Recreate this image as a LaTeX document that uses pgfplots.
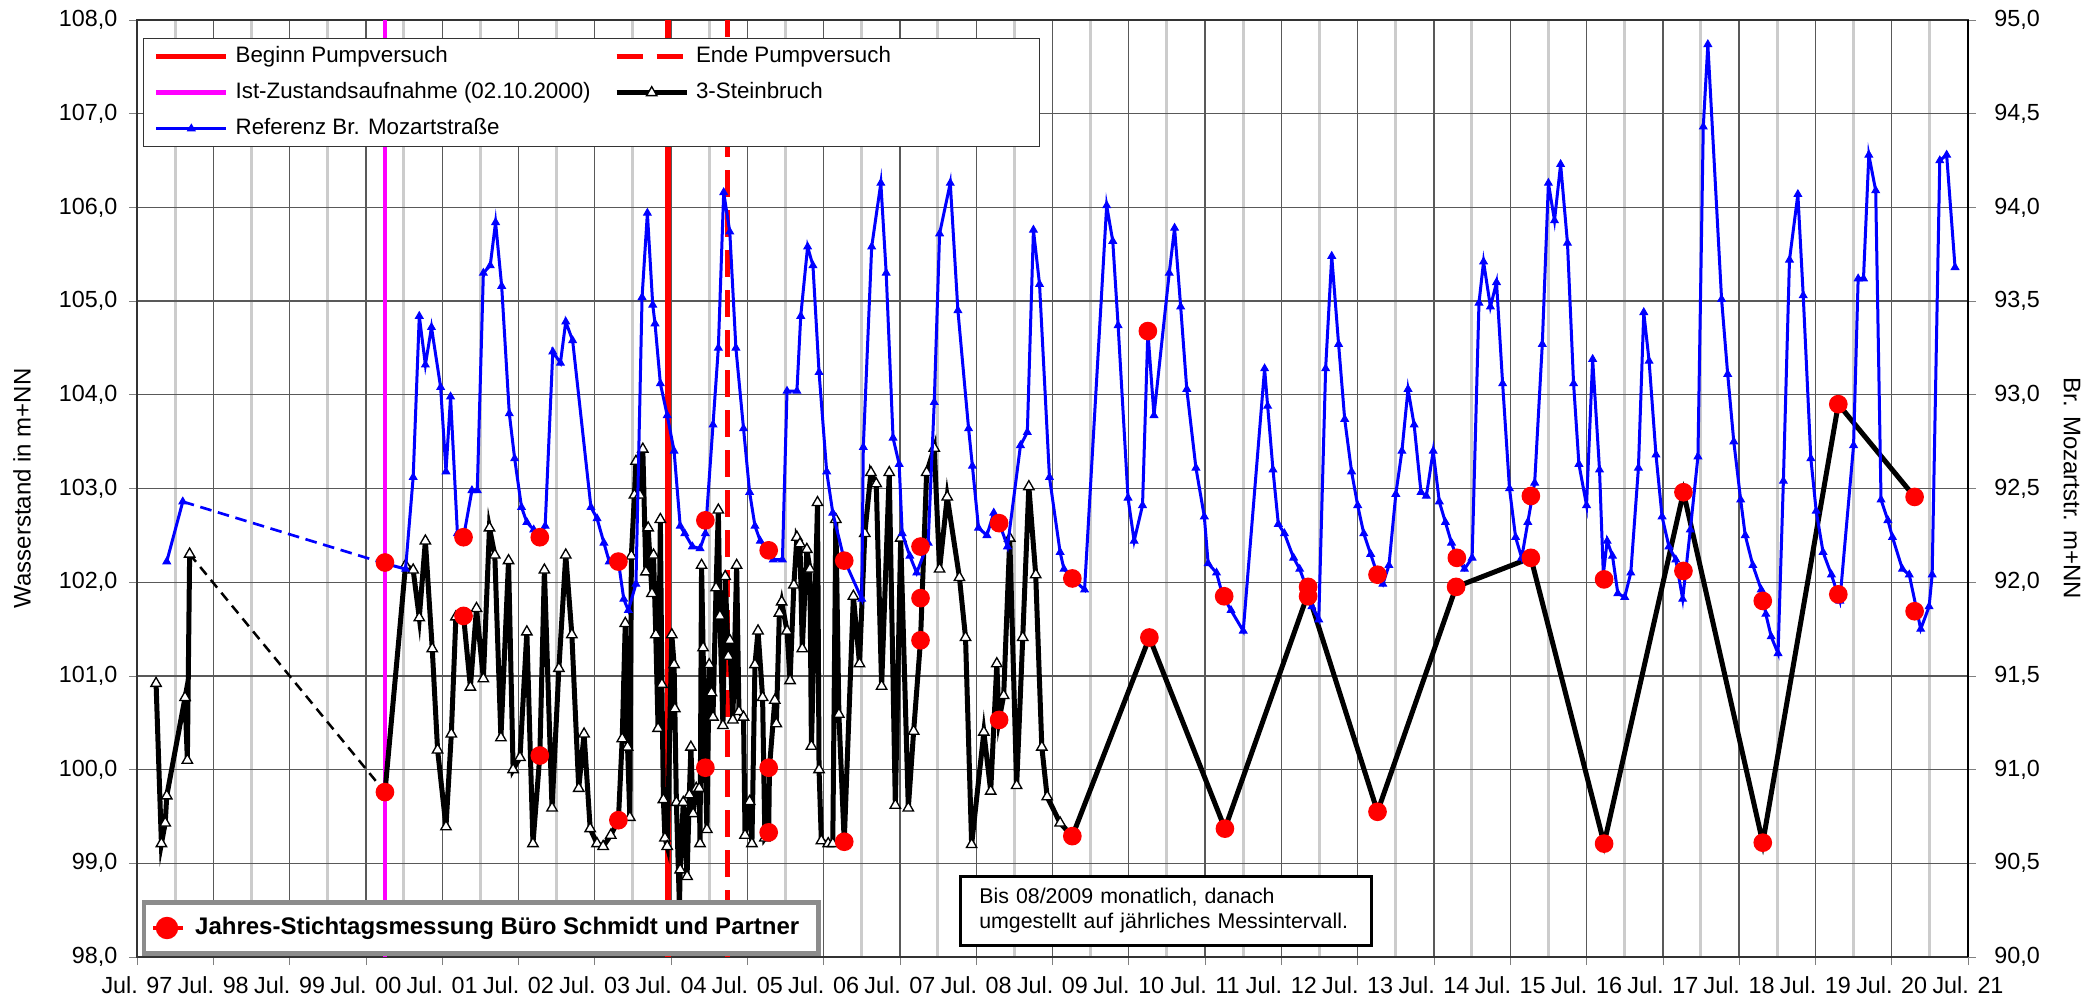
\documentclass[border=0pt]{standalone}
\usepackage{fontspec}
\setmainfont{Liberation Sans}
\usepackage{pgfplots}
\pgfplotsset{compat=1.18}
\definecolor{mag}{RGB}{255,0,255}
\definecolor{bl}{RGB}{0,0,255}
\definecolor{rd}{RGB}{255,0,0}
\begin{document}
\begin{tikzpicture}
\path[use as bounding box] (-41.1pt,-12.6pt) rectangle (585pt,287.1pt);
\pgfplotsset{
  base/.style={
    scale only axis, width=549.3pt, height=281.1pt,
    at={(0pt,0pt)}, anchor=south west,
    xmin=1997.5, xmax=2021.5,
    tick label style={font=\fontsize{7}{8}\selectfont},
    /pgf/number format/assume math mode=true,
    tick align=outside,
    major tick length=2.4pt,
    minor tick length=0pt,
  },
  numfmt/.style={yticklabel style={/pgf/number format/fixed, /pgf/number format/fixed zerofill, /pgf/number format/precision=1, /pgf/number format/use comma}},
}
% ---------------- left axis: vertical markers, 3-Steinbruch
\begin{axis}[base, numfmt,
  ymin=98, ymax=108, ytick={98,99,...,108},
  xtick={1997.5,1998.5,...,2021.5},
  xticklabels={Jul. 97,Jul. 98,Jul. 99,Jul. 00,Jul. 01,Jul. 02,Jul. 03,Jul. 04,Jul. 05,Jul. 06,Jul. 07,Jul. 08,Jul. 09,Jul. 10,Jul. 11,Jul. 12,Jul. 13,Jul. 14,Jul. 15,Jul. 16,Jul. 17,Jul. 18,Jul. 19,Jul. 20,Jul. 21},
  minor xtick={1998,1999,...,2021},
  tick pos=left,
  xmajorgrids, ymajorgrids, xminorgrids,
  major grid style={black!65, line width=0.4pt},
  minor grid style={black!20, line width=0.9pt},
  axis line style={black!80, line width=0.5pt},
  legend columns=2,
  legend image code/.code={\draw[mark repeat=2,mark phase=2,#1] plot coordinates {(0pt,0pt) (10.5pt,0pt) (21pt,0pt)};},
  legend style={at={(0,1)}, anchor=north west, xshift=1.8pt, yshift=-5.4pt,
    draw=black!80, line width=0.4pt, fill=white,
    font=\fontsize{6.7}{8}\selectfont,
    inner xsep=3pt, inner ysep=0pt,
    nodes={minimum height=10.8pt, inner ysep=0pt, inner xsep=2pt},
    /tikz/every even column/.append style={column sep=5pt}},
  legend cell align=left,
]
\addplot[rd, line width=1.6pt] coordinates {(2004.46,98) (2004.46,108)};
\addlegendentry{Beginn Pumpversuch}
\addplot[rd, line width=1.6pt, dash pattern=on 8pt off 4pt] coordinates {(2005.24,98) (2005.24,108)};
\addlegendentry{\makebox[98pt][l]{Ende Pumpversuch}}
\addplot[mag, line width=1.4pt] coordinates {(2000.75,98) (2000.75,108)};
\addlegendentry{Ist-Zustandsaufnahme (02.10.2000)}
\addplot[black, line width=0.75pt, dash pattern=on 3pt off 2pt, forget plot] coordinates {(1998.19,102.30) (2000.75,99.76)};
\addplot[black, line width=1.5pt, mark=triangle*, mark size=1.8pt, mark options={solid, fill=white, draw=black, line width=0.4pt}, forget plot] coordinates {
(1997.75,100.92) (1997.82,99.21) (1997.87,99.43) (1997.89,99.72) (1998.13,100.77) (1998.16,100.10) (1998.19,102.30)};
\addplot[black, line width=1.5pt, mark=triangle*, mark size=1.8pt, mark options={solid, fill=white, draw=black, line width=0.4pt}] coordinates {
(2000.75,99.76) (2001.02,102.18) (2001.12,102.13) (2001.20,101.62) (2001.28,102.44) (2001.37,101.29) (2001.44,100.21) (2001.55,99.39) (2001.62,100.38) (2001.68,101.63) (2001.78,101.64) (2001.87,100.88) (2001.95,101.72) (2002.04,100.97) (2002.12,102.58) (2002.19,102.29) (2002.27,100.34) (2002.37,102.23) (2002.43,100.00) (2002.52,100.13) (2002.61,101.47) (2002.69,99.21) (2002.78,100.15) (2002.84,102.13) (2002.94,99.59) (2003.03,101.08) (2003.12,102.29) (2003.20,101.44) (2003.29,99.80) (2003.36,100.38) (2003.44,99.37) (2003.53,99.21) (2003.61,99.18) (2003.71,99.30) (2003.81,99.46) (2003.86,100.33) (2003.90,101.56) (2003.93,100.24) (2003.96,99.49) (2003.98,102.28) (2004.02,102.93) (2004.04,103.29) (2004.09,102.93) (2004.13,103.42) (2004.17,102.11) (2004.20,102.58) (2004.25,101.88) (2004.27,102.29) (2004.30,101.44) (2004.33,100.44) (2004.36,102.67) (2004.38,100.91) (2004.40,99.68) (2004.42,99.27) (2004.45,99.18) (2004.51,101.44) (2004.54,101.12) (2004.55,100.65) (2004.57,99.65) (2004.61,98.54) (2004.62,98.93) (2004.66,99.65) (2004.71,98.86) (2004.74,99.73) (2004.76,100.24) (2004.79,99.53) (2004.83,99.80) (2004.87,99.80) (2004.88,99.21) (2004.90,102.18) (2004.92,101.30) (2004.95,100.02) (2004.97,99.36) (2005.00,101.12) (2005.03,100.82) (2005.05,100.56) (2005.09,101.94) (2005.12,102.77) (2005.14,101.64) (2005.18,100.47) (2005.21,102.06) (2005.25,101.21) (2005.27,101.38) (2005.31,100.53) (2005.36,102.18) (2005.39,100.62) (2005.45,100.56) (2005.47,99.30) (2005.53,99.66) (2005.56,99.21) (2005.60,101.12) (2005.64,101.48) (2005.70,100.77) (2005.73,99.27) (2005.78,99.33) (2005.79,100.02) (2005.86,100.74) (2005.88,100.49) (2005.92,101.67) (2005.95,101.79) (2006.02,101.48) (2006.06,100.95) (2006.11,101.97) (2006.15,102.48) (2006.19,102.41) (2006.22,101.29) (2006.28,102.35) (2006.32,102.14) (2006.34,100.25) (2006.42,102.85) (2006.44,100.00) (2006.47,99.24) (2006.56,99.21) (2006.62,99.21) (2006.66,102.67) (2006.70,100.59) (2006.77,99.23) (2006.89,101.85) (2006.97,101.13) (2007.04,102.52) (2007.12,103.17) (2007.19,103.05) (2007.26,100.89) (2007.36,103.17) (2007.44,99.62) (2007.51,102.47) (2007.61,99.59) (2007.68,100.41) (2007.77,101.38) (2007.85,103.17) (2007.95,103.43) (2008.02,102.14) (2008.12,102.91) (2008.28,102.05) (2008.36,101.41) (2008.44,99.20) (2008.60,100.40) (2008.69,99.77) (2008.77,101.13) (2008.80,100.53) (2008.86,100.79) (2008.94,102.47) (2009.03,99.83) (2009.11,101.41) (2009.19,103.02) (2009.28,102.08) (2009.36,100.24) (2009.43,99.71) (2009.60,99.43) (2009.76,99.29) (2010.77,101.41) (2011.76,99.37) (2012.85,101.88) (2013.76,99.55) (2014.79,101.95) (2015.77,102.26) (2016.73,99.21) (2017.77,102.96) (2018.81,99.22) (2019.80,103.90) (2020.80,102.91)};
\addlegendentry{3-Steinbruch}
\addlegendimage{bl, line width=0.9pt, mark=triangle*, mark size=1.3pt, mark options={solid, line width=0.3pt}}
\addlegendentry{Referenz Br. Mozartstraße}
\end{axis}
% ---------------- right axis: Referenz Br. Mozartstrasse
\begin{axis}[base, numfmt,
  ymin=90, ymax=95, ytick={90,90.5,...,95},
  axis x line=none, axis y line*=right,
  axis line style={black, line width=0.5pt},
  yticklabel style={xshift=2pt},
]
\addplot[bl, line width=0.8pt, dash pattern=on 3.5pt off 2pt] coordinates {(1998.10,92.43) (2000.75,92.10)};
\addplot[bl, line width=0.9pt, mark=triangle*, mark size=1.3pt, mark options={solid, line width=0.3pt}] coordinates {(1997.89,92.11) (1998.10,92.43)};
\addplot[bl, line width=0.9pt, mark=triangle*, mark size=1.3pt, mark options={solid, line width=0.3pt}] coordinates {
(2000.75,92.10) (2001.02,92.07) (2001.12,92.56) (2001.20,93.42) (2001.28,93.16) (2001.36,93.36) (2001.48,93.04) (2001.55,92.59) (2001.61,92.99) (2001.70,92.26) (2001.78,92.24) (2001.89,92.49) (2001.96,92.49) (2002.04,93.65) (2002.13,93.69) (2002.20,93.92) (2002.28,93.58) (2002.38,92.90) (2002.45,92.66) (2002.54,92.40) (2002.61,92.32) (2002.70,92.28) (2002.78,92.24) (2002.85,92.30) (2002.95,93.23) (2003.05,93.17) (2003.12,93.39) (2003.21,93.29) (2003.45,92.40) (2003.53,92.34) (2003.62,92.21) (2003.69,92.11) (2003.81,92.11) (2003.88,91.91) (2003.94,91.85) (2004.04,91.99) (2004.12,93.52) (2004.19,93.97) (2004.26,93.48) (2004.29,93.38) (2004.36,93.06) (2004.45,92.89) (2004.54,92.70) (2004.62,92.30) (2004.68,92.26) (2004.78,92.19) (2004.88,92.18) (2004.95,92.26) (2005.05,92.84) (2005.12,93.25) (2005.19,94.08) (2005.27,93.87) (2005.35,93.25) (2005.45,92.82) (2005.53,92.48) (2005.60,92.30) (2005.67,92.22) (2005.78,92.17) (2005.84,92.12) (2005.96,92.12) (2006.02,93.02) (2006.15,93.02) (2006.20,93.42) (2006.29,93.79) (2006.36,93.69) (2006.44,93.12) (2006.54,92.59) (2006.62,92.37) (2006.77,92.12) (2007.00,91.91) (2007.02,92.72) (2007.13,93.79) (2007.25,94.13) (2007.32,93.65) (2007.41,92.77) (2007.49,92.63) (2007.53,92.26) (2007.63,92.14) (2007.72,92.05) (2007.87,92.21) (2007.95,92.96) (2008.02,93.86) (2008.16,94.13) (2008.26,93.45) (2008.40,92.82) (2008.45,92.62) (2008.53,92.29) (2008.64,92.25) (2008.73,92.37) (2008.80,92.32) (2008.91,92.19) (2009.08,92.73) (2009.17,92.80) (2009.25,93.88) (2009.33,93.59) (2009.46,92.56) (2009.60,92.16) (2009.65,92.07) (2009.76,92.02) (2009.92,91.96) (2010.21,94.01) (2010.29,93.82) (2010.36,93.37) (2010.49,92.45) (2010.57,92.22) (2010.68,92.41) (2010.75,93.34) (2010.83,92.89) (2011.03,93.65) (2011.10,93.89) (2011.18,93.47) (2011.26,93.03) (2011.38,92.61) (2011.49,92.35) (2011.54,92.10) (2011.65,92.05) (2011.73,91.93) (2011.84,91.85) (2012.00,91.74) (2012.28,93.14) (2012.32,92.94) (2012.39,92.60) (2012.46,92.31) (2012.54,92.26) (2012.66,92.13) (2012.74,92.07) (2012.85,91.95) (2012.90,91.87) (2012.99,91.80) (2013.08,93.14) (2013.16,93.74) (2013.25,93.27) (2013.33,92.87) (2013.42,92.59) (2013.50,92.41) (2013.58,92.26) (2013.67,92.15) (2013.76,92.04) (2013.83,91.99) (2013.91,92.09) (2014.00,92.47) (2014.08,92.70) (2014.16,93.03) (2014.24,92.84) (2014.33,92.48) (2014.40,92.46) (2014.49,92.70) (2014.57,92.43) (2014.65,92.32) (2014.73,92.21) (2014.80,92.13) (2014.90,92.07) (2015.00,92.13) (2015.09,93.49) (2015.15,93.71) (2015.24,93.47) (2015.32,93.60) (2015.40,93.06) (2015.49,92.50) (2015.57,92.24) (2015.65,92.13) (2015.73,92.32) (2015.82,92.53) (2015.92,93.27) (2016.00,94.13) (2016.08,93.93) (2016.16,94.23) (2016.25,93.81) (2016.33,93.06) (2016.40,92.63) (2016.50,92.41) (2016.58,93.19) (2016.67,92.60) (2016.72,92.04) (2016.77,92.22) (2016.84,92.14) (2016.91,91.94) (2017.00,91.92) (2017.08,92.05) (2017.18,92.61) (2017.25,93.44) (2017.32,93.18) (2017.41,92.68) (2017.49,92.35) (2017.58,92.19) (2017.67,92.12) (2017.76,91.91) (2017.86,92.28) (2017.96,92.67) (2018.03,94.43) (2018.09,94.87) (2018.27,93.51) (2018.35,93.11) (2018.43,92.75) (2018.52,92.44) (2018.58,92.25) (2018.68,92.09) (2018.79,91.96) (2018.85,91.83) (2018.92,91.71) (2019.01,91.62) (2019.08,92.54) (2019.16,93.72) (2019.27,94.07) (2019.34,93.53) (2019.44,92.66) (2019.51,92.38) (2019.60,92.16) (2019.71,92.04) (2019.82,91.90) (2020.00,92.73) (2020.06,93.62) (2020.13,93.62) (2020.20,94.28) (2020.29,94.09) (2020.36,92.44) (2020.45,92.33) (2020.51,92.24) (2020.64,92.07) (2020.73,92.04) (2020.88,91.75) (2020.99,91.87) (2021.03,92.04) (2021.13,94.25) (2021.22,94.28) (2021.33,93.68)};
\end{axis}
% ---------------- annual reference measurements
\begin{axis}[base, hide axis, ymin=98, ymax=108,
  legend image code/.code={\path (0pt,0pt) -- (9pt,0pt); \fill[rd] (4.2pt,0pt) circle (2.7pt);},
  legend style={at={(0,0)}, anchor=south west, xshift=1.5pt, yshift=0.4pt,
    draw=black!45, line width=1.3pt, fill=white,
    font=\bfseries\fontsize{7.2}{8}\selectfont,
    inner xsep=2pt, inner ysep=0pt,
    nodes={minimum height=15.3pt, inner ysep=0pt, inner xsep=3pt}},
]
\addplot[only marks, mark=*, mark size=2.6pt, rd, mark options={draw=rd, fill=rd}] coordinates {
(2000.75,102.21) (2000.75,99.76)
(2001.78,102.48) (2001.78,101.64)
(2002.78,102.48) (2002.78,100.15)
(2003.81,102.22) (2003.81,99.46)
(2004.95,102.66) (2004.95,100.02)
(2005.78,102.34) (2005.78,100.02) (2005.78,99.33)
(2006.77,102.23) (2006.77,99.23)
(2007.77,102.38) (2007.77,101.83) (2007.77,101.38)
(2008.80,102.63) (2008.80,100.53)
(2009.76,102.04) (2009.76,99.29)
(2010.75,104.68) (2010.77,101.41)
(2011.75,101.85) (2011.76,99.37)
(2012.85,101.95) (2012.85,101.85)
(2013.76,102.08) (2013.76,99.55)
(2014.80,102.26) (2014.79,101.95)
(2015.77,102.92) (2015.77,102.26)
(2016.73,102.03) (2016.73,99.21)
(2017.77,102.12) (2017.77,102.96)
(2018.81,101.80) (2018.81,99.22)
(2019.80,101.87) (2019.80,103.90)
(2020.80,101.69) (2020.80,102.91)};
\addlegendentry{\makebox[182pt][l]{Jahres-Stichtagsmessung Büro Schmidt und Partner}}
\end{axis}
\node[rotate=90, font=\fontsize{7.2}{8}\selectfont] at (-34.5pt,140.55pt) {Wasserstand in m+NN};
\node[rotate=-90, font=\fontsize{7.2}{8}\selectfont] at (580.5pt,140.55pt) {Br. Mozartstr. m+NN};
\node[draw=black, line width=0.8pt, fill=white, anchor=north west, minimum height=20.7pt, text width=117pt, inner xsep=3.2pt, inner ysep=2pt, align=left, font=\fontsize{6.4}{7.5}\selectfont] at (246.6pt,24.6pt) {\hspace*{2.5pt}Bis 08/2009 monatlich, danach\\\hspace*{2.5pt}umgestellt auf jährliches Messintervall.};
\end{tikzpicture}
\end{document}
